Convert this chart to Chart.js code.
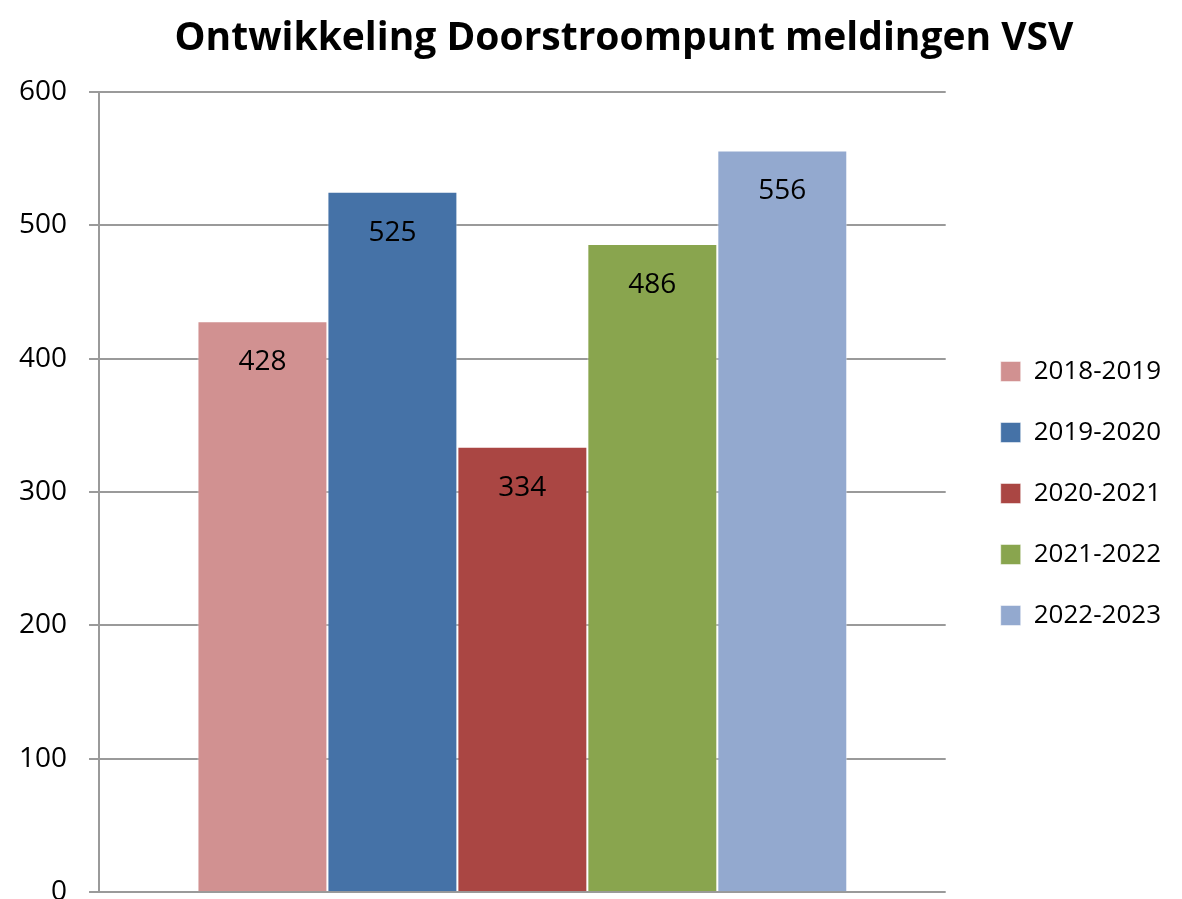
<!DOCTYPE html>
<html>
<head>
<meta charset="utf-8">
<script src="https://cdn.jsdelivr.net/npm/chart.js@4.4.1/dist/chart.umd.min.js"></script>
<style>
    html, body { margin: 0; padding: 0; background: #fff; overflow: hidden; }
    #wrap { width: 1182px; height: 931px; }
</style>
</head>
<body>
<div id="wrap"><canvas id="chart"></canvas></div>
<script>
// --- DATA ---
const seasons = ['2018-2019', '2019-2020', '2020-2021', '2021-2022', '2022-2023'];
const counts = [428, 525, 334, 486, 556];
const seasonColors = ['#D19191', '#4572A7', '#AA4643', '#89A54E', '#93A9CF'];
const yTicks = [0, 100, 200, 300, 400, 500, 600];

const gridGray = '#9a9a9a';

// waarde in de staaf, net onder de bovenkant
const valueLabels = {
    id: 'valueLabels',
    afterDatasetsDraw(chart) {
        const ctx = chart.ctx;
        ctx.save();
        ctx.font = '28px "Open Sans"';
        ctx.fillStyle = '#000';
        ctx.textAlign = 'center';
        ctx.textBaseline = 'middle';
        chart.data.datasets.forEach((ds, i) => {
            chart.getDatasetMeta(i).data.forEach((bar, j) => {
                ctx.fillText(ds.data[j], bar.x, bar.y + 41);
            });
        });
        ctx.restore();
    }
};

// titel en legenda iets verschuiven zoals in het origineel
const nudge = {
    id: 'nudge',
    afterLayout(chart) {
        const lg = chart.legend;
        const w = lg.right - lg.left;
        lg.left = chart.chartArea.right + 20;
        lg.right = lg.left + w;
        lg.top += 28;
        lg.bottom += 28;
        const t = chart.titleBlock;
        t.left += 50;
        t.right += 50;
    }
};

const ctx = document.getElementById('chart').getContext('2d');
new Chart(ctx, {
    type: 'bar',
    data: {
        labels: [''],
        datasets: seasons.map((s, i) => ({
            label: s,
            data: [counts[i]],
            backgroundColor: seasonColors[i],
            borderColor: 'rgba(255,255,255,0.5)',
            borderWidth: 1,
            barPercentage: 1,
            categoryPercentage: 0.7675
        }))
    },
    options: {
        responsive: true,
        maintainAspectRatio: false,
        animation: false,
        layout: { padding: { left: -3, right: 31, top: 0, bottom: 0 } },
        scales: {
            x: { display: false },
            y: {
                min: 0,
                max: 600,
                afterBuildTicks: (axis) => { axis.ticks = yTicks.map(v => ({ value: v })); },
                ticks: {
                    color: '#000',
                    font: { family: 'Open Sans', size: 28 },
                    padding: 22
                },
                grid: { color: gridGray, lineWidth: 2, tickLength: 10 },
                border: { color: gridGray, width: 2 }
            }
        },
        plugins: {
            title: {
                display: true,
                text: 'Ontwikkeling Doorstroompunt meldingen VSV',
                color: '#000',
                font: { family: 'Open Sans', size: 39, weight: 'bold' },
                padding: { top: 15, bottom: 30 }
            },
            legend: {
                position: 'right',
                labels: {
                    color: '#000',
                    font: { family: 'Open Sans', size: 26 },
                    boxWidth: 20,
                    boxHeight: 20,
                    padding: 35
                }
            },
            tooltip: { enabled: false }
        }
    },
    plugins: [valueLabels, nudge]
});
</script>
</body>
</html>
